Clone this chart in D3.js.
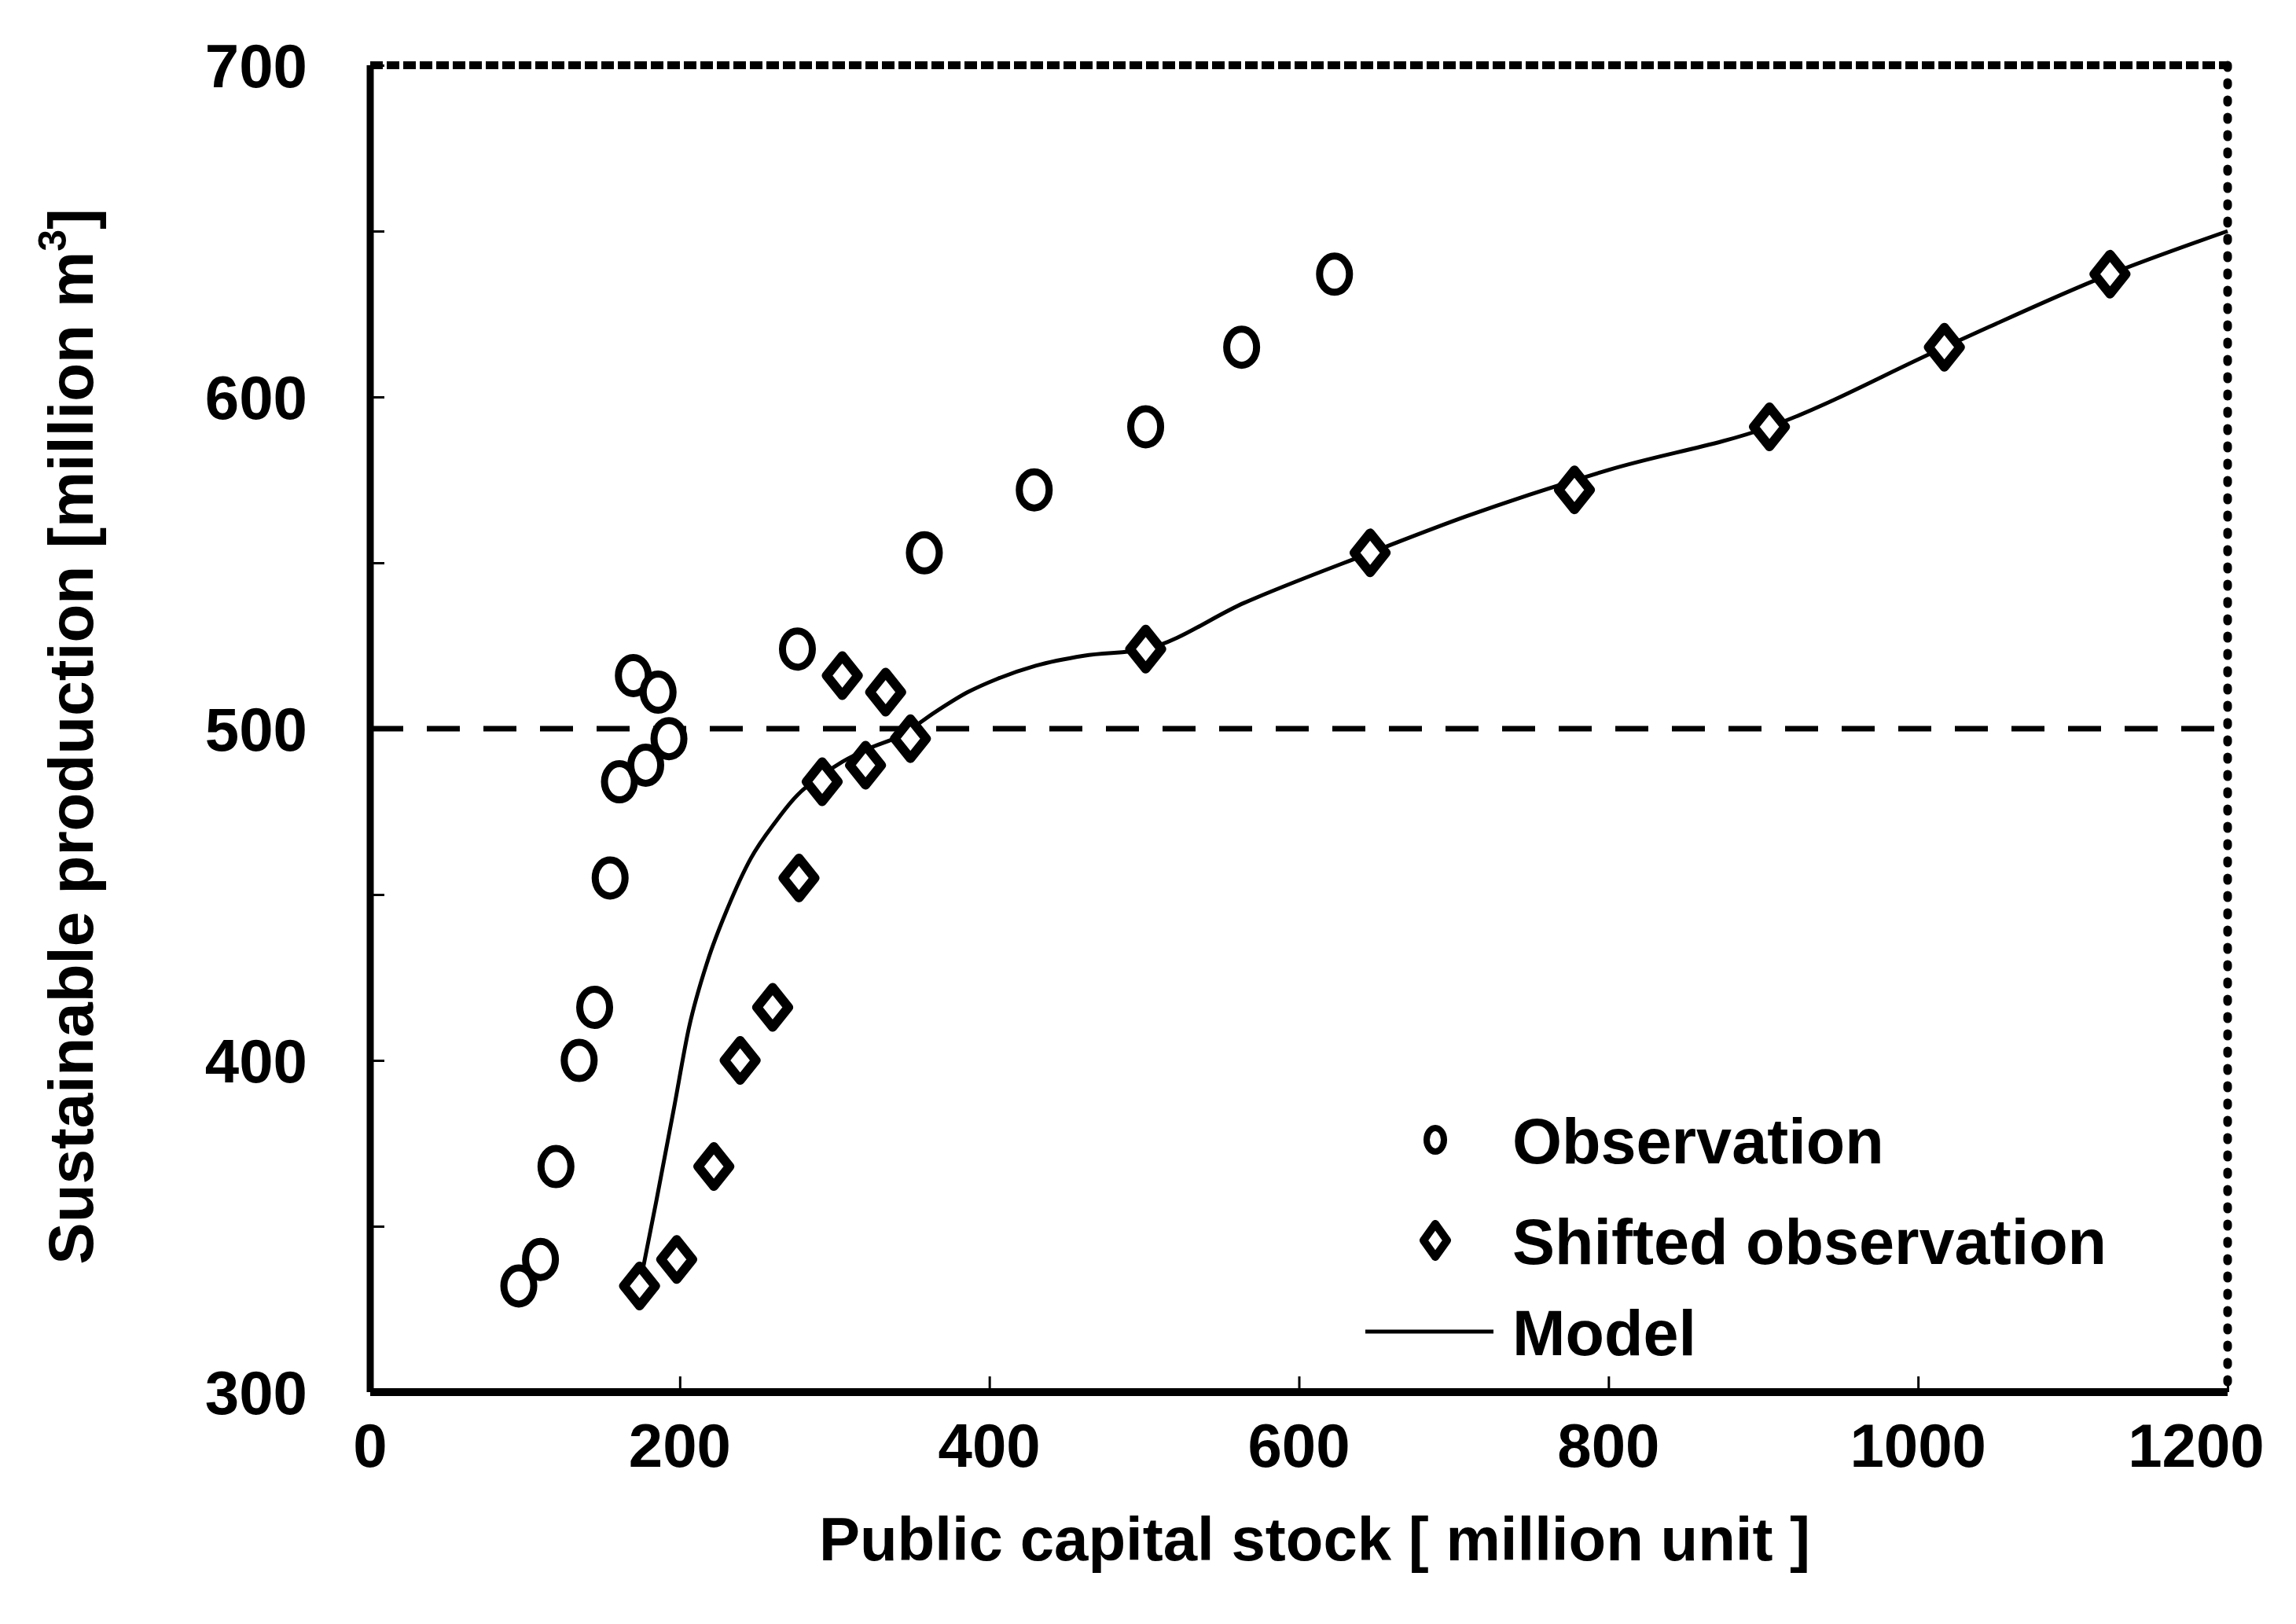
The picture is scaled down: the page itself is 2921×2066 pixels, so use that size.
<!DOCTYPE html>
<html>

<head>
  <meta charset="utf-8">
  <title>Sustainable production</title>
  <script src="https://cdnjs.cloudflare.com/ajax/libs/d3/7.8.5/d3.min.js"></script>
  <style>
    body {
      margin: 0;
      background: #fff;
    }

    text {
      font-family: "Liberation Sans", Arial, sans-serif;
      font-weight: bold;
      fill: #000;
    }
  </style>
</head>

<body>
  <script>
    // observed points
    var obsX = [96, 110, 120, 135, 145, 155, 161, 178, 193, 170, 186, 276, 358, 429, 501, 563, 623];
    var obsY = [332, 340, 368, 400, 416, 455, 484, 489, 497, 516, 511, 524, 553, 572, 591, 615, 637];

    // shifted observation
    var shiftX = [174, 198, 222, 239, 260, 277, 292, 320, 349, 305, 333, 501, 646, 778, 904, 1017, 1124];
    var shiftY = obsY;

    // model curve
    var modelX = [174, 185, 196, 206, 218, 231, 246, 262, 276, 289, 305, 322, 343, 365, 386, 405, 430, 461, 501, 565, 646, 708, 800, 904, 1017, 1124, 1200];
    var modelY = [332, 358, 385, 410, 430, 446, 461, 472, 480, 485, 490, 494, 498, 505, 511, 515, 519, 522, 524, 538, 553, 564, 578, 591, 615, 637, 650];

    var xTicks = [0, 200, 400, 600, 800, 1000, 1200];
    var yTicks = [300, 400, 500, 600, 700];
    var threshold = 500;

    var W = 2921, H = 2066;
    var mL = 471, mR = 2834, mT = 83, mB = 1771;

    var svg = d3.select("body").append("svg")
      .attr("width", W)
      .attr("height", H);

    var x = d3.scaleLinear().domain([0, 1200]).range([mL, mR]);
    var y = d3.scaleLinear().domain([300, 700]).range([mB, mT]);

    // small inner tick marks
    var xAxis = d3.axisTop(x).tickValues(d3.range(0, 1201, 200)).tickSize(20).tickFormat("");
    svg.append("g").attr("transform", "translate(0," + mB + ")").call(xAxis)
      .call(function (g) { g.select(".domain").remove(); })
      .selectAll("line").attr("stroke-width", 3);

    var yAxis = d3.axisRight(y).tickValues(d3.range(300, 701, 50)).tickSize(18).tickFormat("");
    svg.append("g").attr("transform", "translate(" + mL + ",0)").call(yAxis)
      .call(function (g) { g.select(".domain").remove(); })
      .selectAll("line").attr("stroke-width", 3);

    // frame: solid left/bottom, dotted top/right
    svg.append("line").attr("x1", mL).attr("x2", mL).attr("y1", mT).attr("y2", mB)
      .attr("stroke", "#000").attr("stroke-width", 9);
    svg.append("line").attr("x1", mL).attr("x2", mR).attr("y1", mB).attr("y2", mB)
      .attr("stroke", "#000").attr("stroke-width", 10);
    svg.append("line").attr("x1", mL).attr("x2", mR).attr("y1", mT).attr("y2", mT)
      .attr("stroke", "#000").attr("stroke-width", 10).attr("stroke-dasharray", "16,5");
    svg.append("line").attr("x1", mR).attr("x2", mR).attr("y1", mT).attr("y2", mB)
      .attr("stroke", "#000").attr("stroke-width", 11).attr("stroke-linecap", "round")
      .attr("stroke-dasharray", "3,19");

    // tick labels
    svg.append("g").selectAll("text").data(xTicks).join("text")
      .attr("x", function (d) { return d === 1200 ? x(d) - 40 : x(d); })
      .attr("y", mB + 95)
      .attr("text-anchor", "middle")
      .attr("font-size", 78)
      .text(function (d) { return d; });

    svg.append("g").selectAll("text").data(yTicks).join("text")
      .attr("x", mL - 80)
      .attr("y", function (d) { return y(d) + 28; })
      .attr("text-anchor", "end")
      .attr("font-size", 78)
      .text(function (d) { return d; });

    // axis titles
    svg.append("text")
      .attr("x", (mL + mR) / 2 + 20)
      .attr("y", 1985)
      .attr("text-anchor", "middle")
      .attr("font-size", 78)
      .text("Public capital stock [ million unit ]");

    var yt = svg.append("text")
      .attr("transform", "translate(118," + ((mT + mB) / 2 + 10) + ") rotate(-90)")
      .attr("text-anchor", "middle")
      .attr("font-size", 80);
    yt.append("tspan").text("Sustainable production [million m");
    yt.append("tspan").attr("font-size", 50).attr("dy", -34).text("3");
    yt.append("tspan").attr("dy", 34).text("]");

    // 500 threshold dashed line
    svg.append("line")
      .attr("x1", mL).attr("x2", mR)
      .attr("y1", y(threshold)).attr("y2", y(threshold))
      .attr("stroke", "#000").attr("stroke-width", 7)
      .attr("stroke-dasharray", "42,30");

    // model curve
    var modelPts = d3.zip(modelX, modelY);
    var line = d3.line()
      .x(function (d) { return x(d[0]); })
      .y(function (d) { return y(d[1]); })
      .curve(d3.curveMonotoneX);
    svg.append("path").datum(modelPts)
      .attr("d", line)
      .attr("fill", "none")
      .attr("stroke", "#000")
      .attr("stroke-width", 5);

    // observations (circles)
    svg.append("g").selectAll("ellipse").data(d3.zip(obsX, obsY)).join("ellipse")
      .attr("cx", function (d) { return x(d[0]); })
      .attr("cy", function (d) { return y(d[1]); })
      .attr("rx", 19).attr("ry", 23)
      .attr("fill", "#fff").attr("stroke", "#000").attr("stroke-width", 9);

    // shifted observations (diamonds)
    function diamond(cx, cy, w, h) {
      return "M" + cx + "," + (cy - h) + "L" + (cx + w) + "," + cy + "L" + cx + "," + (cy + h) + "L" + (cx - w) + "," + cy + "Z";
    }
    svg.append("g").selectAll("path").data(d3.zip(shiftX, shiftY)).join("path")
      .attr("d", function (d) { return diamond(x(d[0]), y(d[1]), 20, 25); })
      .attr("fill", "#fff").attr("stroke", "#000").attr("stroke-width", 12)
      .attr("stroke-linejoin", "round");

    // legend
    var lg = svg.append("g");
    var lx = 1826, ly = [1450, 1578, 1694];
    lg.append("ellipse").attr("cx", lx).attr("cy", ly[0]).attr("rx", 11).attr("ry", 15)
      .attr("fill", "#fff").attr("stroke", "#000").attr("stroke-width", 8);
    lg.append("path").attr("d", diamond(lx, ly[1], 15, 21))
      .attr("fill", "#fff").attr("stroke", "#000").attr("stroke-width", 10).attr("stroke-linejoin", "round");
    lg.append("line").attr("x1", 1737).attr("x2", 1900).attr("y1", ly[2]).attr("y2", ly[2])
      .attr("stroke", "#000").attr("stroke-width", 5);
    var labels = ["Observation", "Shifted observation", "Model"];
    lg.selectAll("text.lab").data(labels).join("text")
      .attr("class", "lab")
      .attr("x", 1924)
      .attr("y", function (d, i) { return ly[i] + 30; })
      .attr("font-size", 81)
      .text(function (d) { return d; });
  </script>
</body>

</html>
